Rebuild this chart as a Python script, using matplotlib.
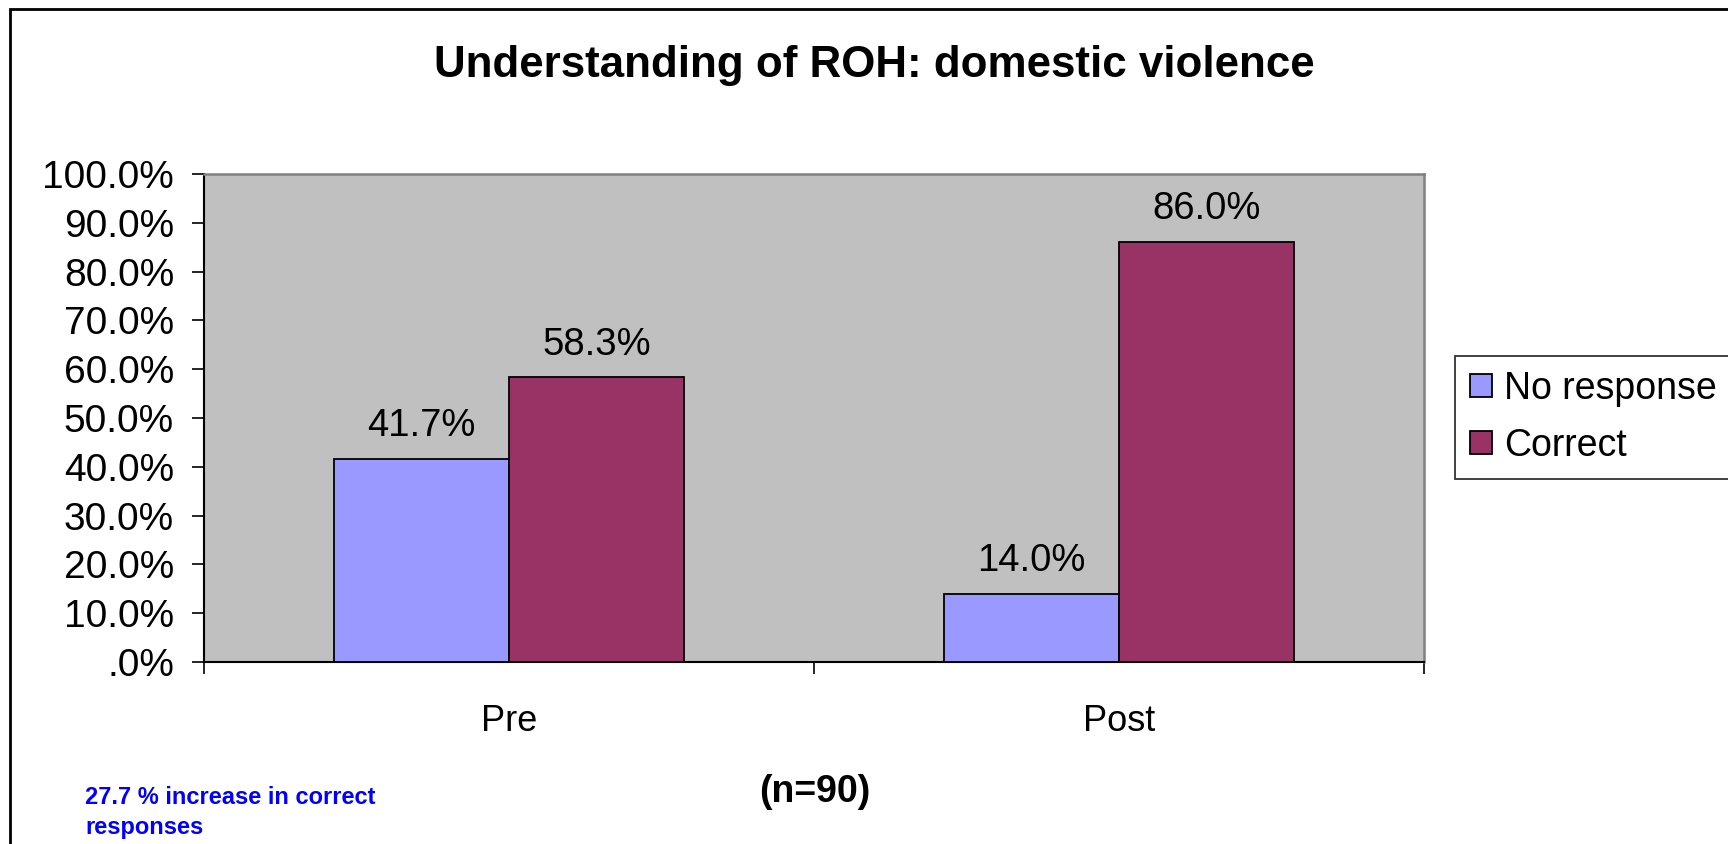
import matplotlib
matplotlib.use("Agg")
import matplotlib.pyplot as plt
from matplotlib.patches import Rectangle
import numpy as np

plt.rcParams['font.family'] = ['Liberation Sans', 'DejaVu Sans']

# ---- data ----
categories = ["Pre", "Post"]
series_names = ["No response", "Correct"]
no_response = [41.7, 14.0]
correct = [58.3, 86.0]
series_colors = ["#9999FF", "#993366"]
ytick_values = [0, 10, 20, 30, 40, 50, 60, 70, 80, 90, 100]
ytick_labels = [".0%", "10.0%", "20.0%", "30.0%", "40.0%", "50.0%",
                "60.0%", "70.0%", "80.0%", "90.0%", "100.0%"]
title = "Understanding of ROH: domestic violence"
xlabel = "(n=90)"
note = "27.7 % increase in correct\nresponses"

W, H = 1728, 844
DPI = 100
fig = plt.figure(figsize=(W / DPI, H / DPI), dpi=DPI)
fig.patch.set_facecolor("white")

# axes placement (pixels)
ax_l, ax_r, ax_t, ax_b = 204, 1424, 174, 662
ax = fig.add_axes([ax_l / W, 1 - ax_b / H, (ax_r - ax_l) / W, (ax_b - ax_t) / H])
ax.set_facecolor("#C0C0C0")

x = np.arange(len(categories))
bw = 0.287
all_series = [no_response, correct]
for i, (vals, name, col) in enumerate(zip(all_series, series_names, series_colors)):
    pos = x + (i - 0.5) * bw
    ax.bar(pos, vals, width=bw, color=col, edgecolor="black",
           linewidth=1.3, label=name, zorder=3)
    for xi, v in zip(pos, vals):
        ax.annotate(f"{v:.1f}%", xy=(xi, v), xytext=(0, 16.5),
                    textcoords="offset points", ha="center", va="baseline",
                    fontsize=27.5, color="black")

ax.set_xlim(-0.5, len(categories) - 0.5)
ax.set_ylim(0, 100)

# y axis
ax.set_yticks(ytick_values)
ax.set_yticklabels(ytick_labels, fontsize=28)
ax.tick_params(axis="y", direction="out", length=8.6, width=1.2, pad=13, colors="black")

# x axis: ticks at category boundaries, labels at centres
ax.set_xticks(np.arange(-0.5, len(categories), 1.0))
ax.set_xticklabels([])
ax.set_xticks(x, minor=True)
ax.set_xticklabels(categories, minor=True, fontsize=26)
ax.tick_params(axis="x", which="major", direction="out", length=8.6, width=1.2)
ax.tick_params(axis="x", which="minor", length=0, pad=30)

for s in ["left", "bottom"]:
    ax.spines[s].set_color("black")
    ax.spines[s].set_linewidth(1.5)
for s in ["top", "right"]:
    ax.spines[s].set_color("#808080")
    ax.spines[s].set_linewidth(1.8)

# title and texts
fig.text(874 / W, 1 - 66 / H, title, ha="center", va="center",
         fontsize=31.6, fontweight="bold")
fig.text(815 / W, 1 - 792 / H, xlabel, ha="center", va="center",
         fontsize=27, fontweight="bold")
fig.text(85 / W, 1 - 786 / H, note, ha="left", va="top", fontsize=17,
         fontweight="bold", color="#0000FF", linespacing=1.4)

# legend
leg = fig.legend(loc="upper left", bbox_to_anchor=(1455 / W, 1 - 356 / H),
                 fontsize=27, frameon=True, fancybox=False, shadow=False,
                 handlelength=0.58, handleheight=0.58, handletextpad=0.34,
                 labelspacing=0.55, borderpad=0.4, borderaxespad=0)
leg.get_frame().set_edgecolor("black")
leg.get_frame().set_linewidth(1.3)

# outer chart border
fig.add_artist(Rectangle((10 / W, -0.05), 1.2, (H - 9) / H + 0.05,
                         transform=fig.transFigure, fill=False,
                         edgecolor="black", linewidth=2))

fig.savefig("out.png", dpi=DPI, facecolor="white")
